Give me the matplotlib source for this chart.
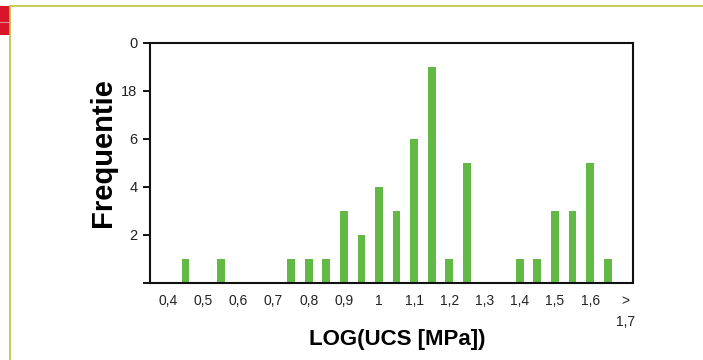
import matplotlib
matplotlib.use('Agg')
import matplotlib.pyplot as plt
from matplotlib.lines import Line2D
from matplotlib.patches import Rectangle

# Dati
posizioni = [0.45, 0.55, 0.75, 0.80, 0.85, 0.90, 0.95, 1.00, 1.05, 1.10,
             1.15, 1.20, 1.25, 1.40, 1.45, 1.50, 1.55, 1.60, 1.65]
frequenze = [1, 1, 1, 1, 1, 3, 2, 4, 3, 6,
             9, 1, 5, 1, 1, 3, 3, 5, 1]
x_ticks = [0.4, 0.5, 0.6, 0.7, 0.8, 0.9, 1.0, 1.1, 1.2, 1.3, 1.4, 1.5, 1.6, 1.7]
x_labels = ['0,4', '0,5', '0,6', '0,7', '0,8', '0,9', '1', '1,1', '1,2', '1,3',
            '1,4', '1,5', '1,6', '>\n1,7']
y_ticks = [0, 2, 4, 6, 8, 10]
y_labels = ['', '2', '4', '6', '18', '0']

plt.rcParams['font.family'] = ['Liberation Sans', 'DejaVu Sans']

fig = plt.figure(figsize=(7.03, 3.6), dpi=100)
ax = fig.add_axes([150 / 703, 77 / 360, 483 / 703, 240 / 360])

ax.bar(posizioni, frequenze, width=0.022, color='#62b946', zorder=2)

ax.set_xlim(0.349, 1.722)
ax.set_ylim(0, 10)

ax.set_xticks(x_ticks)
ax.set_xticklabels(x_labels, fontsize=10, color='#222222', linespacing=1.6)
ax.tick_params(axis='x', length=0, pad=8)
ax.set_yticks(y_ticks)
ax.set_yticklabels(y_labels, fontsize=10.5, color='#222222')
ax.tick_params(axis='y', direction='out', length=5, width=1.3, pad=4)

for s in ax.spines.values():
    s.set_linewidth(1.5)
    s.set_color('#111111')

ax.set_ylabel('Frequentie', fontsize=21, fontweight='bold')
ax.yaxis.set_label_coords(-0.068, 0.545)
ax.set_xlabel('LOG(UCS [MPa])', fontsize=16, fontweight='bold')
ax.xaxis.set_label_coords(0.511, -0.192)

# Cornice della pagina
fig.add_artist(Line2D([10 / 703, 1], [1 - 6 / 360, 1 - 6 / 360], color='#bcc43c', lw=1.2))
fig.add_artist(Line2D([10 / 703, 10 / 703], [0, 1 - 6 / 360], color='#bcc43c', lw=1.2))
fig.add_artist(Rectangle((0, 1 - 35 / 360), 10 / 703, 29 / 360, color='#d9142b', lw=0))
fig.add_artist(Line2D([0, 10 / 703], [1 - 21.5 / 360, 1 - 21.5 / 360], color='#ee8a95', lw=0.8))

plt.savefig('out.png', dpi=100)
